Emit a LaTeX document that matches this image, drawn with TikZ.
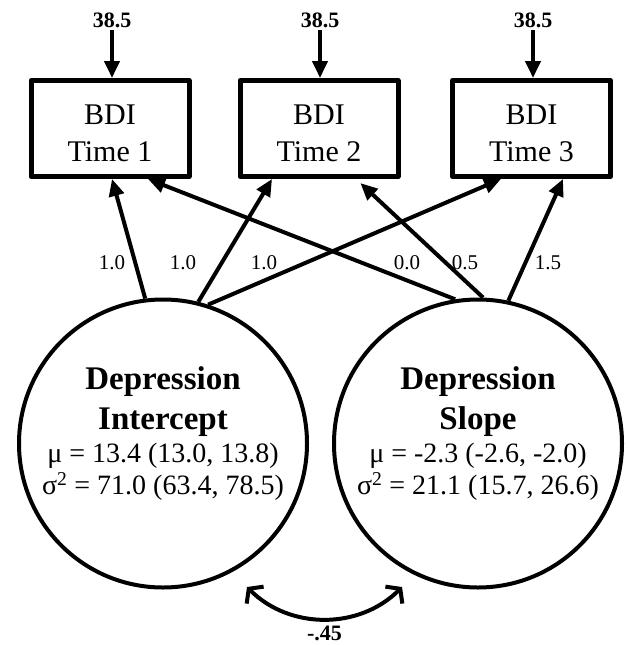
\documentclass[tikz,border=0pt]{standalone}
\usepackage{fontspec}
\setmainfont{Liberation Serif}
\usetikzlibrary{arrows.meta,positioning}
\newcommand\factorname[1]{{\bfseries\fontsize{33}{40}\selectfont #1}}
\newcommand\bdi[1]{\rule{0pt}{30pt}BDI\\Time #1}
\begin{document}
\begin{tikzpicture}[x=1pt,y=-1pt,line join=round,
	>={Triangle[length=17pt,width=15pt]},
	obs/.style={draw,line width=5pt,minimum width=158pt,minimum height=96pt,inner sep=0pt,align=center,font=\fontsize{30}{37}\selectfont},
	latent/.style={draw,circle,line width=4pt,minimum size=288pt,inner sep=0pt},
	stats/.style={align=center,inner sep=0pt,font=\fontsize{28}{32}\selectfont},
	load/.style={->,line width=4pt},
	wt/.style={inner sep=0pt,font=\fontsize{21}{21}\selectfont},
	fixed/.style={inner sep=0pt,font=\bfseries\fontsize{22}{22}\selectfont},
	cov/.style={{Straight Barb[length=9pt,width=24pt]}-{Straight Barb[length=9pt,width=24pt]},line width=4pt}]
	\useasboundingbox (0,0) rectangle (628,645);
	% observed BDI scores
	\node[obs] (bdi1) at (110,128.5) {\bdi{1}};
	\node[obs] (bdi2) at (319,128.5) {\bdi{2}};
	\node[obs] (bdi3) at (531.5,128.5) {\bdi{3}};
	\node[fixed] (m1) at (112,20) {38.5};
	\node[fixed] (m2) at (320,20) {38.5};
	\node[fixed] (m3) at (533,20) {38.5};
	\foreach \i in {1,2,3}
	\draw[load,shorten <=2.5pt] (m\i.south) -- (m\i.south |- bdi\i.north);
	% growth factors
	\node[latent] (icpt) at (163,443.5) {};
	\node[latent] (slope) at (478,443.5) {};
	\node[stats] (icptlab) at ([yshift=9.5pt]icpt.center)
	{\factorname{Depression}\\[8pt]\factorname{Intercept}\\[1pt]
		μ = 13.4 (13.0, 13.8)\\σ\textsuperscript{2} = 71.0 (63.4, 78.5)};
	\node[stats] (slopelab) at ([yshift=9.5pt]slope.center)
	{\factorname{Depression}\\[8pt]\factorname{Slope}\\[1pt]
		μ = -2.3 (-2.6, -2.0)\\σ\textsuperscript{2} = 21.1 (15.7, 26.6)};
	% loadings
	\draw[load] (icpt.97) -- ([xshift=2pt]bdi1.south);
	\draw[load] (icpt.76) -- ([xshift=-47pt]bdi2.south);
	\draw[load] (icpt.72) -- ([xshift=-30.5pt]bdi3.south);
	\draw[load] (slope.99) -- ([xshift=38pt]bdi1.south);
	\draw[load,shorten >=6pt] (slope.88) -- ([xshift=37pt]bdi2.south);
	\draw[load] (slope.78) -- ([xshift=31.5pt]bdi3.south);
	\node[wt] (w1) at (112,263) {1.0};
	\node[wt] (w2) at (183,263) {1.0};
	\node[wt] (w3) at (264,263) {1.0};
	\node[wt] (w4) at (407,263) {0.0};
	\node[wt] (w5) at (465,263) {0.5};
	\node[wt] (w6) at (548,263) {1.5};
	% covariance
	\coordinate (covl) at (247,587);
	\coordinate (covr) at (402,587);
	\draw[cov] (covl) to[bend right=45] node[fixed,below=5pt] (r) {-.45} (covr);
\end{tikzpicture}
\end{document}
